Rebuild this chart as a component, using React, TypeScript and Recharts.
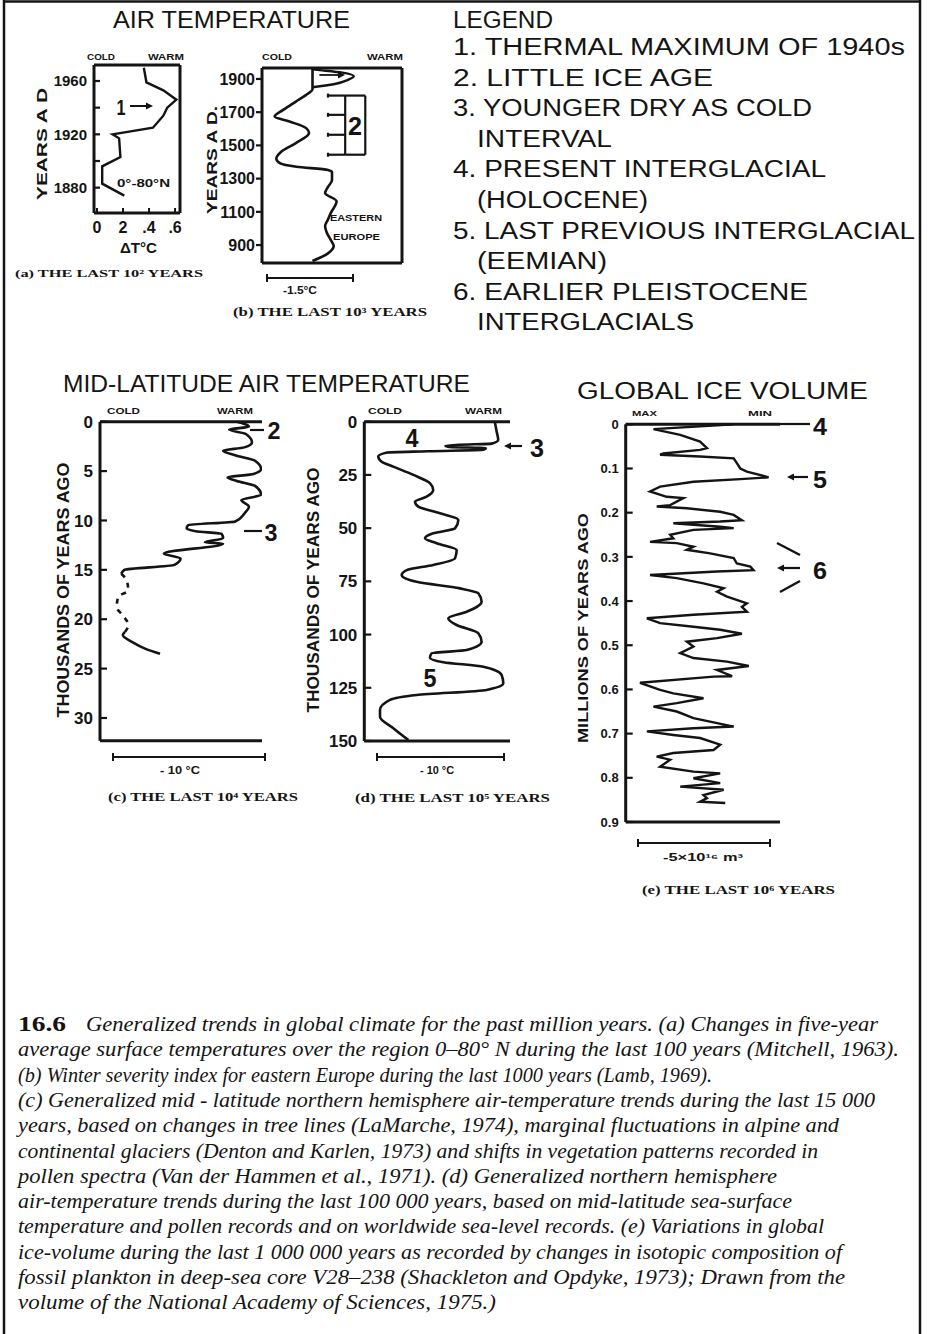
import React from 'react';
import { LineChart, Line, XAxis, YAxis, ReferenceLine } from 'recharts';

const W = 929;
const H = 1334;
const INK = '#141414';
const SANS = '"Liberation Sans", Arial, sans-serif';
const SERIF = '"Liberation Serif", "Times New Roman", serif';

// (a) five-year mean temperature 0-80°N, last 100 years (°C)
const aYears = [1874, 1883, 1896, 1903, 1917, 1920, 1925, 1934, 1940, 1946, 1953, 1959, 1970];
const aDeltaT = [0.21, 0.04, 0.04, 0.18, 0.17, 0.12, 0.43, 0.51, 0.54, 0.61, 0.51, 0.38, 0.36];
const aXTicks = [0, 0.2, 0.4, 0.6];
const aXLabels = ['0', '2', '.4', '.6'];
const aYTicks = [1880, 1900, 1920, 1940, 1960];
const aYLabels = ['1880', '', '1920', '', '1960'];
const aRightTicks = [1870, 1880, 1890, 1900, 1910, 1920, 1930, 1940, 1950, 1960, 1970];

// (b) winter severity index, eastern Europe, last 1000 years (°C, cold = 0)
const bYears = [804, 850, 894, 930, 974, 1014, 1054, 1094, 1164, 1214, 1250, 1290, 1340, 1352, 1372, 1392, 1420, 1464, 1514, 1574, 1604, 1644, 1674, 1714, 1764, 1804, 1838, 1962];
const bIndex = [0.88, 1.15, 1.25, 1.2, 1.13, 1.1, 1.15, 1.2, 1.3, 1.1, 1.15, 1.22, 1.22, 1.15, 0.6, 0.32, 0.25, 0.34, 0.59, 0.82, 0.77, 0.48, 0.22, 0.37, 0.59, 0.77, 0.88, 0.88];
const bLoopYears = [1850, 1868, 1895, 1916, 1938, 1952, 1958];
const bLoopIndex = [0.88, 1.25, 1.5, 1.6, 1.4, 1.05, 0.88];
const bYTicks = [900, 1100, 1300, 1500, 1700, 1900];
const bRightTicks = [800, 900, 1000, 1100, 1200, 1300, 1400, 1500, 1600, 1700, 1800, 1900];
const bBracketYears = [1444, 1564, 1684, 1800];

// (c) mid-latitude air temperature, last ~25 000 years (°C, cold = 0)
const cAge = [0, 0.5, 0.8, 1.25, 2.1, 2.6, 2.95, 3.4, 3.95, 4.8, 5.3, 5.65, 6.0, 6.5, 7.4, 7.94, 8.6, 9.3, 10.1, 10.48, 10.8, 11.1, 11.35, 11.8, 12.2, 12.35, 13.35, 13.86, 14.5, 15.0, 15.4];
const cTemp = [9.0, 9.8, 8.5, 9.6, 10.0, 9.5, 8.1, 8.9, 10.2, 10.6, 10.1, 8.4, 9.0, 10.2, 10.6, 9.3, 9.8, 9.5, 8.9, 5.8, 5.7, 6.3, 8.0, 8.1, 6.9, 8.1, 4.2, 5.3, 4.9, 1.6, 1.4];
const cGapAge = [15.4, 16.05, 17.1, 17.7, 18.8, 19.6, 20.6, 21.3];
const cGapTemp = [1.4, 1.75, 1.86, 1.2, 1.1, 1.5, 1.86, 1.64];
const cLateAge = [21.3, 21.6, 22.3, 23.0, 23.5];
const cLateTemp = [1.64, 1.5, 2.1, 3.0, 3.95];
const cTicks = [0, 5, 10, 15, 20, 25, 30];

// (d) northern hemisphere air temperature, last 150 000 years
const dAge = [0, 4.7, 8.6, 10.3, 10.8, 11.3, 11.9, 12.4, 13.2, 13.9, 14.5, 16.4, 18.8, 21.1, 25.0, 28.9, 32.1, 35.2, 37.6, 39.9, 43.0, 46.2, 50.1, 52.4, 54.8, 57.1, 60.3, 64.2, 67.3, 69.7, 72.0, 75.2, 78.3, 80.6, 84.6, 89.3, 92.4, 95.5, 99.4, 103.4, 107.3, 108.8, 110.9, 113.0, 115.1, 119.0, 122.9, 126.0, 128.4, 130.7, 135.4, 138.6, 144.0, 149.5];
const dTemp = [10.3, 10.45, 10.57, 10.05, 7.5, 6.4, 6.7, 9.6, 9.4, 5.0, 1.8, 1.1, 1.37, 2.29, 3.87, 5.18, 5.44, 4.92, 4.0, 4.26, 5.97, 7.42, 7.16, 5.44, 4.79, 5.71, 7.29, 7.16, 5.44, 3.35, 2.95, 4.13, 7.55, 9.0, 9.26, 8.08, 6.63, 7.29, 9.0, 9.26, 8.08, 5.32, 5.18, 6.23, 9.39, 10.84, 10.97, 9.66, 4.13, 2.03, 1.24, 1.24, 2.29, 3.47];
const dTicks = [0, 25, 50, 75, 100, 125, 150];

// (e) global ice volume, core V28-238 (10^16 m³ below max)
const eAge = [0, 0.011, 0.024, 0.039, 0.054, 0.058, 0.066, 0.069, 0.073, 0.077, 0.088, 0.1, 0.107, 0.12, 0.124, 0.13, 0.141, 0.152, 0.164, 0.167, 0.183, 0.186, 0.19, 0.198, 0.205, 0.217, 0.22, 0.224, 0.232, 0.235, 0.239, 0.25, 0.258, 0.266, 0.269, 0.277, 0.284, 0.292, 0.303, 0.315, 0.322, 0.33, 0.333, 0.341, 0.348, 0.36, 0.371, 0.379, 0.39, 0.405, 0.413, 0.424, 0.431, 0.439, 0.45, 0.458, 0.465, 0.474, 0.484, 0.492, 0.503, 0.518, 0.529, 0.537, 0.547, 0.556, 0.57, 0.571, 0.585, 0.601, 0.609, 0.62, 0.631, 0.639, 0.65, 0.665, 0.684, 0.688, 0.695, 0.703, 0.71, 0.725, 0.737, 0.744, 0.752, 0.759, 0.775, 0.786, 0.79, 0.801, 0.812, 0.82, 0.827, 0.839, 0.846, 0.854, 0.857];
const eIce = [4.08, 1.05, 2.06, 2.81, 3.07, 2.81, 1.42, 1.3, 2.81, 4.08, 4.2, 4.33, 4.58, 5.4, 4.33, 2.56, 1.3, 0.92, 1.55, 2.18, 1.68, 1.17, 2.31, 3.57, 4.08, 4.39, 3.57, 1.8, 3.57, 4.08, 2.56, 1.68, 1.8, 0.92, 1.93, 2.56, 2.31, 3.19, 4.08, 4.2, 4.71, 4.83, 3.45, 0.92, 1.93, 2.94, 3.7, 3.45, 3.83, 4.58, 4.39, 4.58, 2.56, 0.8, 1.3, 2.56, 3.57, 4.39, 3.45, 2.31, 2.56, 2.06, 2.56, 3.83, 4.65, 3.45, 4.02, 3.32, 0.54, 1.3, 1.8, 2.94, 1.93, 1.05, 1.93, 2.56, 4.08, 2.56, 0.8, 1.8, 2.81, 3.57, 3.32, 1.8, 1.17, 1.68, 1.3, 2.56, 3.57, 2.56, 3.57, 2.06, 3.7, 2.94, 3.07, 2.81, 3.76];
const eTicks = [0, 0.1, 0.2, 0.3, 0.4, 0.5, 0.6, 0.7, 0.8, 0.9];

const legendLines = [
  '1. THERMAL MAXIMUM OF 1940s',
  '2. LITTLE ICE AGE',
  '3. YOUNGER DRY AS COLD',
  'INTERVAL',
  '4. PRESENT INTERGLACIAL',
  '(HOLOCENE)',
  '5. LAST PREVIOUS INTERGLACIAL',
  '(EEMIAN)',
  '6. EARLIER PLEISTOCENE',
  'INTERGLACIALS',
];
const legendWidths = [452, 260, 359, 135, 373, 171, 462, 130, 355, 217];

const captionLines = [
  'Generalized trends in global climate for the past million years. (a) Changes in five-year',
  'average surface temperatures over the region 0–80° N during the last 100 years (Mitchell, 1963).',
  '(b) Winter severity index for eastern Europe during the last 1000 years (Lamb, 1969).',
  '(c) Generalized mid - latitude northern hemisphere air-temperature trends during the last 15 000',
  'years, based on changes in tree lines (LaMarche, 1974), marginal fluctuations in alpine and',
  'continental glaciers (Denton and Karlen, 1973) and shifts in vegetation patterns recorded in',
  'pollen spectra (Van der Hammen et al., 1971). (d) Generalized northern hemisphere',
  'air-temperature trends during the last 100 000 years, based on mid-latitude sea-surface',
  'temperature and pollen records and on worldwide sea-level records. (e) Variations in global',
  'ice-volume during the last 1 000 000 years as recorded by changes in isotopic composition of',
  'fossil plankton in deep-sea core V28–238 (Shackleton and Opdyke, 1973); Drawn from the',
  'volume of the National Academy of Sciences, 1975.)',
];
const captionEnds = [878, 899, 712, 875, 839, 818, 777, 792, 824, 842, 845, 496];

const rows = (ts: number[], vs: number[]) => ts.map((t, i) => ({ t, v: vs[i] }));

// plot box in page pixels -> chart margin
const frame = (l: number, t: number, r: number, b: number, yw: number, ryw: number, th: number, bh: number) => ({
  left: l - yw,
  top: t - th,
  right: W - r - ryw,
  bottom: H - b - bh,
});

const axisLine = { stroke: INK, strokeWidth: 3 };

const leftTick = (ticks: number[], labels: string[], size: number, len: number) => (p: any) => {
  const i = ticks.indexOf(p.payload.value);
  const lab = i >= 0 ? labels[i] : '';
  return (
    <g>
      <line x1={p.x} x2={p.x + len} y1={p.y} y2={p.y} stroke={INK} strokeWidth={2.2} />
      {lab ? (
        <text x={p.x - 7} y={p.y} dy="0.36em" textAnchor="end" fontFamily={SANS} fontWeight="bold" fontSize={size} fill={INK}>
          {lab}
        </text>
      ) : null}
    </g>
  );
};

const rightTick = (len: number) => (p: any) => (
  <line x1={p.x} x2={p.x - len} y1={p.y} y2={p.y} stroke={INK} strokeWidth={2} />
);

const bottomTick = (ticks: number[], labels: string[]) => (p: any) => {
  const i = ticks.indexOf(p.payload.value);
  return (
    <g>
      <line x1={p.x} x2={p.x} y1={p.y} y2={p.y - 5} stroke={INK} strokeWidth={2} />
      <text x={p.x} y={p.y + 20} textAnchor="middle" fontFamily={SANS} fontWeight="bold" fontSize={16} fill={INK}>
        {labels[i]}
      </text>
    </g>
  );
};

const layer: React.CSSProperties = { position: 'absolute', left: 0, top: 0 };

function PanelA() {
  const dom: [number, number] = [1861, 1972];
  return (
    <div style={layer}>
      <LineChart width={W} height={H} layout="vertical" data={rows(aYears, aDeltaT)} margin={frame(94, 65, 180, 213, 40, 10, 5, 25)}>
        <XAxis type="number" domain={[-0.023, 0.638]} allowDataOverflow ticks={aXTicks} interval={0} height={25} tickSize={0} tickMargin={0} tickLine={false} axisLine={axisLine} tick={bottomTick(aXTicks, aXLabels)} />
        <XAxis xAxisId="top" orientation="top" type="number" domain={[-0.023, 0.638]} allowDataOverflow height={5} tick={false} tickLine={false} axisLine={axisLine} />
        <YAxis type="number" dataKey="t" reversed domain={dom} allowDataOverflow ticks={aYTicks} interval={0} width={40} tickSize={0} tickMargin={0} tickLine={false} axisLine={axisLine} tick={leftTick(aYTicks, aYLabels, 15, 6)} />
        <YAxis yAxisId="r" orientation="right" type="number" reversed domain={dom} allowDataOverflow ticks={aRightTicks} interval={0} width={10} tickSize={0} tickMargin={0} tickLine={false} axisLine={axisLine} tick={rightTick(6)} />
        <Line dataKey="v" type="linear" stroke={INK} strokeWidth={2.4} dot={false} isAnimationActive={false} />
      </LineChart>
    </div>
  );
}

function PanelB() {
  const dom: [number, number] = [792, 1966];
  const bx = { tick: 1.15, stem: 1.45, box: 1.8 };
  const [y0, y1] = [bBracketYears[0], bBracketYears[bBracketYears.length - 1]];
  const seg = (xa: number, ya: number, xb: number, yb: number, k: string) => (
    <ReferenceLine key={k} segment={[{ x: xa, y: ya }, { x: xb, y: yb }]} stroke={INK} strokeWidth={2.2} />
  );
  return (
    <div style={layer}>
      <LineChart width={W} height={H} layout="vertical" data={rows(bYears, bIndex)} margin={frame(262, 68, 402, 263, 50, 10, 5, 5)}>
        <XAxis type="number" domain={[0, 2.44]} allowDataOverflow height={5} tick={false} tickLine={false} axisLine={axisLine} />
        <XAxis xAxisId="top" orientation="top" type="number" domain={[0, 2.44]} allowDataOverflow height={5} tick={false} tickLine={false} axisLine={axisLine} />
        <YAxis type="number" dataKey="t" reversed domain={dom} allowDataOverflow ticks={bYTicks} interval={0} width={50} tickSize={0} tickMargin={0} tickLine={false} axisLine={axisLine} tick={leftTick(bYTicks, bYTicks.map(String), 16, -6)} />
        <YAxis yAxisId="r" orientation="right" type="number" reversed domain={dom} allowDataOverflow ticks={bRightTicks} interval={0} width={10} tickSize={0} tickMargin={0} tickLine={false} axisLine={axisLine} tick={rightTick(-5)} />
        <Line dataKey="v" type="monotone" stroke={INK} strokeWidth={2.6} dot={false} isAnimationActive={false} />
        <Line data={rows(bLoopYears, bLoopIndex)} dataKey="v" type="monotone" stroke={INK} strokeWidth={2.4} dot={false} isAnimationActive={false} />
        <ReferenceLine segment={[{ x: 1.0, y: 1924 }, { x: 1.38, y: 1924 }]} stroke={INK} strokeWidth={1.8} />
        {seg(bx.stem, y0, bx.stem, y1, 'stem')}
        {seg(bx.box, y0, bx.box, y1, 'side')}
        {seg(bx.stem, y0, bx.box, y0, 'bt')}
        {seg(bx.stem, y1, bx.box, y1, 'tp')}
        {bBracketYears.map((y) => seg(bx.tick, y, bx.stem, y, 'h' + y))}
        {bBracketYears.map((y) => seg(bx.tick, y - 12, bx.tick, y + 12, 'c' + y))}
      </LineChart>
    </div>
  );
}

function AgePanel(props: {
  box: [number, number, number, number];
  xMax: number;
  yMax: number;
  ticks: number[];
  labels: string[];
  size: number;
  children: React.ReactNode;
}) {
  const [l, t, r, b] = props.box;
  return (
    <div style={layer}>
      <LineChart width={W} height={H} layout="vertical" margin={frame(l, t, r, b, 40, 0, 5, 5)}>
        <XAxis orientation="top" type="number" domain={[0, props.xMax]} allowDataOverflow height={5} tick={false} tickLine={false} axisLine={axisLine} />
        <XAxis xAxisId="bot" orientation="bottom" type="number" domain={[0, props.xMax]} allowDataOverflow height={5} tick={false} tickLine={false} axisLine={axisLine} />
        <YAxis type="number" dataKey="t" domain={[0, props.yMax]} allowDataOverflow ticks={props.ticks} interval={0} width={40} tickSize={0} tickMargin={0} tickLine={false} axisLine={axisLine} tick={leftTick(props.ticks, props.labels, props.size, 7)} />
        {props.children}
      </LineChart>
    </div>
  );
}

const T = (p: {
  x: number;
  y: number;
  w?: number;
  size: number;
  bold?: boolean;
  italic?: boolean;
  serif?: boolean;
  anchor?: 'start' | 'middle' | 'end';
  rot?: boolean;
  children: React.ReactNode;
}) => (
  <text
    x={p.x}
    y={p.y}
    fontSize={p.size}
    fontFamily={p.serif ? SERIF : SANS}
    fontWeight={p.bold ? 'bold' : 'normal'}
    fontStyle={p.italic ? 'italic' : 'normal'}
    textAnchor={p.anchor || 'start'}
    textLength={p.w}
    lengthAdjust={p.w ? 'spacingAndGlyphs' : undefined}
    transform={p.rot ? `rotate(-90 ${p.x} ${p.y})` : undefined}
    fill={INK}
  >
    {p.children}
  </text>
);

const Bar = ({ x1, x2, y }: { x1: number; x2: number; y: number }) => (
  <g stroke={INK} strokeWidth={2}>
    <line x1={x1} x2={x2} y1={y} y2={y} />
    <line x1={x1} x2={x1} y1={y - 4} y2={y + 4} />
    <line x1={x2} x2={x2} y1={y - 4} y2={y + 4} />
  </g>
);

const Head = ({ x, y, dir }: { x: number; y: number; dir: 1 | -1 }) => (
  <polygon points={`${x},${y} ${x - dir * 7},${y - 3.5} ${x - dir * 7},${y + 3.5}`} fill={INK} />
);

function Overlay() {
  return (
    <svg width={W} height={H} style={{ position: 'absolute', left: 0, top: 0 }}>
      {/* frame */}
      <g stroke={INK} strokeWidth={2.5}>
        <line x1={4} x2={4} y1={0} y2={H} />
        <line x1={4} x2={920} y1={1.5} y2={1.5} />
        <line x1={920} x2={920} y1={0} y2={H} />
      </g>

      {/* headings */}
      <T x={113} y={28} w={237} size={23}>AIR TEMPERATURE</T>
      <T x={453} y={28} w={100} size={23}>LEGEND</T>
      {legendLines.map((s, i) => (
        <T key={s} x={/^\d/.test(s) ? 453 : 477} y={55 + i * 30.6} w={legendWidths[i]} size={23}>
          {s}
        </T>
      ))}
      <T x={63} y={392} w={407} size={23}>MID-LATITUDE AIR TEMPERATURE</T>
      <T x={577} y={399} w={291} size={23}>GLOBAL ICE VOLUME</T>

      {/* panel a */}
      <T x={87} y={60} w={28} size={9} bold>COLD</T>
      <T x={148} y={60} w={36} size={9} bold>WARM</T>
      <T x={47} y={144} w={112} size={15} bold anchor="middle" rot>YEARS A D</T>
      <T x={121} y={115} w={9} size={22} bold anchor="middle">1</T>
      <line x1={130} x2={147} y1={106} y2={106} stroke={INK} strokeWidth={2} />
      <Head x={153} y={106} dir={1} />
      <T x={117} y={187} w={53} size={10} bold>0°-80°N</T>
      <T x={120} y={253} w={37} size={14} bold>ΔT°C</T>
      <T x={15} y={277} w={188} size={11} bold serif>(a) THE LAST 10² YEARS</T>

      {/* panel b */}
      <T x={262} y={60} w={30} size={9} bold>COLD</T>
      <T x={367} y={60} w={36} size={9} bold>WARM</T>
      <T x={217} y={160} w={108} size={15} bold anchor="middle" rot>YEARS A D.</T>
      <Head x={345} y={75} dir={1} />
      <T x={355} y={135} w={14} size={26} bold anchor="middle">2</T>
      <T x={330} y={221} w={52} size={9} bold>EASTERN</T>
      <T x={333} y={240} w={47} size={9} bold>EUROPE</T>
      <Bar x1={267} x2={353} y={278} />
      <T x={283} y={294} w={34} size={10} bold>-1.5°C</T>
      <T x={233} y={316} w={194} size={12} bold serif>(b) THE LAST 10³ YEARS</T>

      {/* panel c */}
      <T x={107} y={414} w={33} size={9} bold>COLD</T>
      <T x={217} y={414} w={36} size={9} bold>WARM</T>
      <T x={69} y={590} w={255} size={16} bold anchor="middle" rot>THOUSANDS OF YEARS AGO</T>
      <line x1={250} x2={264} y1={430} y2={430} stroke={INK} strokeWidth={2.2} />
      <T x={274} y={439} w={13} size={24} bold anchor="middle">2</T>
      <line x1={244} x2={262} y1={531} y2={531} stroke={INK} strokeWidth={2.2} />
      <T x={271} y={541} w={13} size={24} bold anchor="middle">3</T>
      <Bar x1={113} x2={265} y={757} />
      <T x={160} y={774} w={40} size={11} bold>- 10 °C</T>
      <T x={108} y={801} w={190} size={12} bold serif>(c) THE LAST 10⁴ YEARS</T>

      {/* panel d */}
      <T x={368} y={414} w={34} size={9} bold>COLD</T>
      <T x={465} y={414} w={37} size={9} bold>WARM</T>
      <T x={319} y={590} w={245} size={16} bold anchor="middle" rot>THOUSANDS OF YEARS AGO</T>
      <T x={412} y={447} w={13} size={26} bold anchor="middle">4</T>
      <T x={430} y={687} w={13} size={26} bold anchor="middle">5</T>
      <line x1={510} x2={522} y1={446} y2={446} stroke={INK} strokeWidth={2.2} />
      <Head x={504} y={446} dir={-1} />
      <T x={537} y={457} w={14} size={26} bold anchor="middle">3</T>
      <Bar x1={377} x2={504} y={757} />
      <T x={420} y={774} w={34} size={11} bold>- 10 °C</T>
      <T x={355} y={802} w={195} size={12} bold serif>(d) THE LAST 10⁵ YEARS</T>

      {/* panel e */}
      <T x={632} y={416} w={25} size={8} bold>MAX</T>
      <T x={748} y={416} w={24} size={8} bold>MIN</T>
      <T x={588} y={628} w={230} size={15} bold anchor="middle" rot>MILLIONS OF YEARS AGO</T>
      <line x1={780} x2={810} y1={424} y2={424} stroke={INK} strokeWidth={2.2} />
      <T x={820} y={435} w={14} size={24} bold anchor="middle">4</T>
      <line x1={793} x2={808} y1={477} y2={477} stroke={INK} strokeWidth={2.2} />
      <Head x={787} y={477} dir={-1} />
      <T x={820} y={488} w={14} size={24} bold anchor="middle">5</T>
      <line x1={777} x2={800} y1={543} y2={555} stroke={INK} strokeWidth={2.4} />
      <line x1={783} x2={800} y1={568} y2={568} stroke={INK} strokeWidth={2.2} />
      <Head x={777} y={568} dir={-1} />
      <line x1={780} x2={800} y1={592} y2={581} stroke={INK} strokeWidth={2.4} />
      <T x={820} y={579} w={14} size={24} bold anchor="middle">6</T>
      <Bar x1={638} x2={770} y={843} />
      <T x={663} y={861} w={80} size={10} bold>-5×10¹⁶ m³</T>
      <T x={642} y={894} w={193} size={12} bold serif>(e) THE LAST 10⁶ YEARS</T>

      {/* caption */}
      <T x={18} y={1031} w={48} size={20} bold serif>16.6</T>
      {captionLines.map((s, i) => {
        const x0 = i === 0 ? 86 : 18;
        return (
          <T key={i} x={x0} y={1031 + i * 25.3} w={captionEnds[i] - x0} size={20} italic serif>
            {s}
          </T>
        );
      })}
    </svg>
  );
}

export default function App() {
  const line = { stroke: INK, strokeWidth: 2.6, dot: false, isAnimationActive: false } as const;
  return (
    <div style={{ position: 'absolute', left: 0, top: 0, width: W, height: H, background: '#fff', overflow: 'hidden' }}>
      <PanelA />
      <PanelB />
      <AgePanel box={[100, 421.7, 262, 740.7]} xMax={10.66} yMax={32.3} ticks={cTicks} labels={cTicks.map(String)} size={17}>
        <Line data={rows(cAge, cTemp)} dataKey="v" type="monotone" {...line} />
        <Line data={rows(cGapAge, cGapTemp)} dataKey="v" type="monotone" strokeDasharray="5 6" {...line} />
        <Line data={rows(cLateAge, cLateTemp)} dataKey="v" type="monotone" {...line} />
      </AgePanel>
      <AgePanel box={[364.3, 421.7, 510, 741]} xMax={11.5} yMax={150} ticks={dTicks} labels={dTicks.map(String)} size={17}>
        <Line data={rows(dAge, dTemp)} dataKey="v" type="monotone" {...line} />
      </AgePanel>
      <AgePanel box={[625.7, 424.3, 780, 822]} xMax={5.83} yMax={0.9} ticks={eTicks} labels={eTicks.map((v) => (v === 0 ? '0' : v.toFixed(1)))} size={13}>
        <Line data={rows(eAge, eIce)} dataKey="v" type="linear" {...line} strokeWidth={2.4} />
      </AgePanel>
      <Overlay />
    </div>
  );
}
